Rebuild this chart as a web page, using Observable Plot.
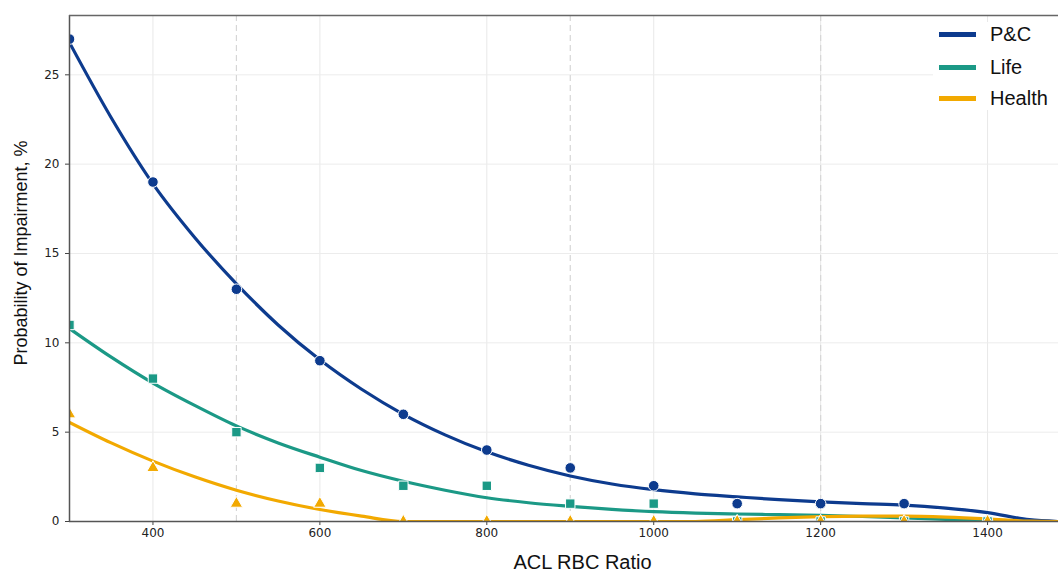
<!DOCTYPE html>
<html>
<head>
<meta charset="utf-8">
<script src="https://cdn.jsdelivr.net/npm/d3@7"></script>
<script src="https://cdn.jsdelivr.net/npm/@observablehq/plot@0.6"></script>
<style>
  html, body { margin: 0; padding: 0; background: #fff; }
  #wrap { position: relative; width: 1058px; height: 572px; overflow: hidden; }
  #wrap svg { position: absolute; left: 0; top: 0; }
  .lab { position: absolute; font-family: "Liberation Sans", Arial, sans-serif; color: #111; white-space: nowrap; }
  #legend { position: absolute; left: 933px; top: 22px; width: 125px; height: 88px; background: #fff; }
  .item { position: absolute; left: 6px; height: 32px; display: flex; align-items: center; font-family: "Liberation Sans", Arial, sans-serif; font-size: 20px; color: #111; }
  .swatch { width: 37px; height: 5px; margin-right: 14px; }
</style>
</head>
<body>
<div id="wrap"></div>
<script>
// ---- data ----
const ratios = [300, 400, 500, 600, 700, 800, 900, 1000, 1100, 1200, 1300, 1400];
const pcPoints     = [27, 19, 13, 9, 6, 4, 3, 2, 1, 1, 1, 0];
const lifePoints   = [11, 8, 5, 3, 2, 2, 1, 1, 0, 0, 0, 0];
const healthPoints = [6, 3, 1, 1, 0, 0, 0, 0, 0, 0, 0, 0];

// fitted curves
const fitX      = [300, 350, 400, 450, 500, 550, 600, 650, 700, 750, 800, 850, 900, 950, 1000, 1050, 1100, 1150, 1200, 1250, 1300, 1350, 1400, 1450, 1485];
const pcFit     = [26.8, 22.6, 18.9, 15.9, 13.3, 11.0, 9.05, 7.4, 6.0, 4.85, 3.9, 3.15, 2.55, 2.1, 1.78, 1.55, 1.38, 1.22, 1.1, 1.0, 0.92, 0.75, 0.5, 0.1, 0];
const lifeFit   = [10.8, 9.2, 7.75, 6.5, 5.35, 4.4, 3.6, 2.85, 2.25, 1.75, 1.33, 1.05, 0.85, 0.68, 0.55, 0.47, 0.42, 0.38, 0.34, 0.28, 0.2, 0.12, 0.04, 0, 0];
const healthFit = [5.55, 4.4, 3.38, 2.5, 1.75, 1.15, 0.67, 0.3, 0, 0, 0, 0, 0, 0, 0, 0, 0.1, 0.2, 0.27, 0.3, 0.3, 0.25, 0.15, 0.02, 0];

const seriesNames  = ["P&C", "Life", "Health"];
const seriesColors = ["#0d3b8e", "#1b9986", "#f2a900"];
const seriesSymbols = ["circle", "square", "triangle"];
const seriesR = [5.3, 5.3, 4.6];

const xTicks = [400, 600, 800, 1000, 1200, 1400];
const yTicks = [0, 5, 10, 15, 20, 25];
const dashX  = [500, 900, 1200];
const xDomain = [300, 1485];
const yDomain = [0, 28.32];

const xLabel = "ACL RBC Ratio";
const yLabel = "Probability of Impairment, %";

// ---- tables built from arrays ----
const pointSets = [pcPoints, lifePoints, healthPoints];
const fitSets = [pcFit, lifeFit, healthFit];
const points = [];
pointSets.forEach((vals, s) => vals.forEach((v, i) => points.push({series: seriesNames[s], x: ratios[i], y: v})));
const fits = [];
fitSets.forEach((vals, s) => vals.forEach((v, i) => fits.push({series: seriesNames[s], x: fitX[i], y: v})));

const marks = [
  Plot.gridX(xTicks, {stroke: "#e8e8e8", strokeOpacity: 1, strokeWidth: 1}),
  Plot.gridY(yTicks.filter(d => d > 0), {stroke: "#ececec", strokeOpacity: 1, strokeWidth: 1}),
  Plot.ruleX(dashX, {stroke: "#d6d6d6", strokeWidth: 1.2, strokeDasharray: "6,4"})
];
seriesNames.forEach((name, s) => {
  marks.push(Plot.line(fits.filter(d => d.series === name), {
    x: "x", y: "y", stroke: seriesColors[s], strokeWidth: 3.2, curve: "monotone-x", clip: true
  }));
});
seriesNames.forEach((name, s) => {
  marks.push(Plot.dot(points.filter(d => d.series === name), {
    x: "x", y: "y", symbol: () => seriesSymbols[s], fill: seriesColors[s], stroke: "#fff",
    strokeWidth: 1, r: seriesR[s], clip: true
  }));
});
const tickFont = {fontFamily: "DejaVu Sans", fontSize: 12, fill: "#222", stroke: "#444"};
marks.push(
  Plot.axisX(xTicks, {tickSize: 4, tickPadding: 3, label: null, tickFormat: d => String(d), ...tickFont}),
  Plot.axisY(yTicks, {tickSize: 4, tickPadding: 6, label: null, tickFormat: d => String(d), ...tickFont}),
  Plot.ruleX([xDomain[0]], {stroke: "#555", strokeWidth: 1.5}),
  Plot.ruleY([yDomain[0]], {stroke: "#555", strokeWidth: 1.5}),
  Plot.ruleY([yDomain[1]], {stroke: "#666", strokeWidth: 1.5})
);

const chart = Plot.plot({
  width: 1058,
  height: 572,
  marginLeft: 69,
  marginRight: 0,
  marginTop: 15,
  marginBottom: 51,
  x: {domain: xDomain},
  y: {domain: yDomain},
  symbol: {domain: seriesSymbols, range: seriesSymbols},
  style: {fontFamily: "'DejaVu Sans', sans-serif", fontSize: "12px", background: "#fff", overflow: "visible"},
  marks
});

const wrap = document.getElementById("wrap");
wrap.appendChild(chart);

// axis titles
const xl = document.createElement("div");
xl.className = "lab";
xl.textContent = xLabel;
Object.assign(xl.style, {left: "582.5px", top: "553px", fontSize: "20px", lineHeight: "18px", height: "18px", transform: "translateX(-50%)"});
wrap.appendChild(xl);

const yl = document.createElement("div");
yl.className = "lab";
yl.textContent = yLabel;
Object.assign(yl.style, {left: "21px", top: "252.5px", fontSize: "18px", lineHeight: "1", transform: "translate(-50%,-50%) rotate(-90deg)"});
wrap.appendChild(yl);

// legend
const legend = document.createElement("div");
legend.id = "legend";
const rowTops = [-4, 29, 60];
seriesNames.forEach((name, s) => {
  const it = document.createElement("div");
  it.className = "item";
  it.style.top = rowTops[s] + "px";
  const sw = document.createElement("div");
  sw.className = "swatch";
  sw.style.background = seriesColors[s];
  const tx = document.createElement("span");
  tx.textContent = name;
  it.appendChild(sw);
  it.appendChild(tx);
  legend.appendChild(it);
});
wrap.appendChild(legend);
</script>
</body>
</html>
